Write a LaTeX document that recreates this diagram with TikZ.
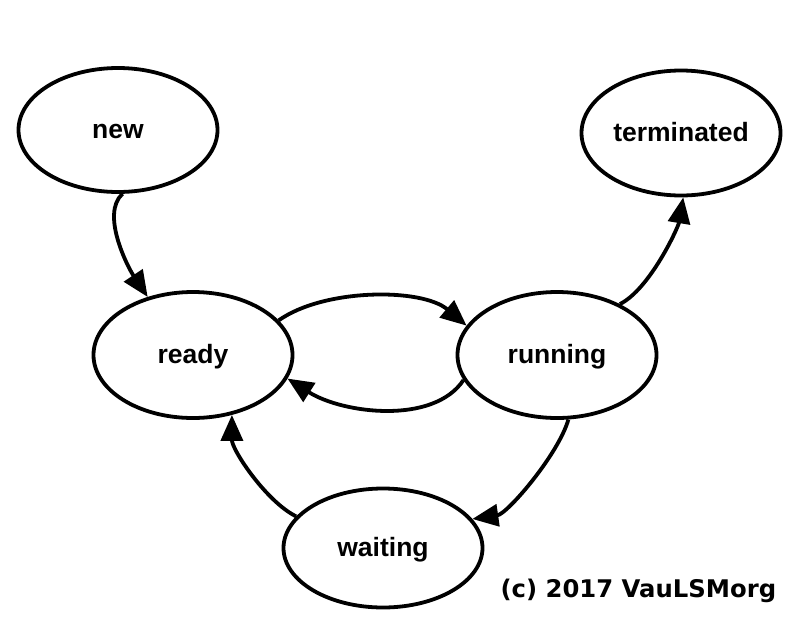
\documentclass[tikz,border=0pt]{standalone}
\usepackage{fontspec}
\setmainfont{Liberation Sans}
\newfontfamily\markfont{DejaVu Sans}
\usetikzlibrary{shapes.geometric,arrows.meta}

\begin{document}
\begin{tikzpicture}[x=1pt,y=-1pt,
  state/.style={ellipse,draw,line width=3.8pt,inner sep=0pt,
    minimum width=199pt,minimum height=124pt,
    font=\fontsize{26.5}{30}\selectfont\bfseries,text height=20pt,text depth=4pt},
  trans/.style={line width=3.8pt,-{Triangle[length=26pt,width=22pt]}}]
  \useasboundingbox (0,0) rectangle (800,643);
  \node[state] (new) at (118,130) {new};
  \node[state,minimum height=125pt] (terminated) at (681,133) {terminated};
  \node[state,minimum height=126pt] (ready) at (193,355) {ready};
  \node[state,minimum height=126pt] (running) at (557,355) {running};
  \node[state,minimum height=119pt] (waiting) at (383,548) {waiting};
  \node[anchor=base west,font=\markfont\fontsize{24.3}{28}\selectfont\bfseries] (mark) at (497,597) {(c) 2017 VauLSMorg};
  \draw[trans] (new.-86) .. controls +(-22,20) and +(-20,-30) .. (ready.128);
  \draw[trans] (ready.22) .. controls +(45,-32) and +(-45,-38) .. (running.162);
  \draw[trans] (running.195) .. controls +(-30,45) and +(55,35) .. (ready.346);
  \draw[trans] (running.39) .. controls +(30,-15) and +(-5,30) .. (terminated.-88);
  \draw[trans] (running.-80) .. controls +(-10,35) and +(35,-5) .. (waiting.18);
  \draw[trans] (waiting.160) .. controls +(-30,-15) and +(0,35) .. (ready.-57);
\end{tikzpicture}
\end{document}
